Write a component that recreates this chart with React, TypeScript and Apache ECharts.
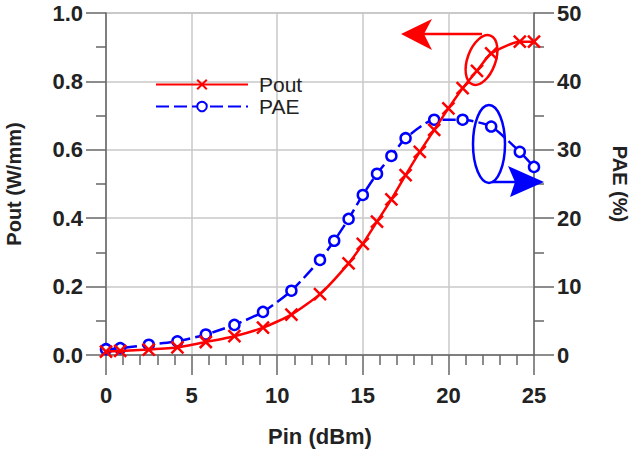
import React, { useEffect, useRef } from "react";
import * as echarts from "echarts";

const pinPout = [0, 0.83, 2.5, 4.17, 5.83, 7.5, 9.17, 10.83, 12.5, 14.17, 15, 15.83, 16.67, 17.5, 18.33, 19.17, 20, 20.83, 21.67, 22.5, 24.17, 25];
const poutValues = [0.01, 0.012, 0.016, 0.022, 0.038, 0.055, 0.08, 0.118, 0.178, 0.268, 0.325, 0.39, 0.455, 0.526, 0.594, 0.658, 0.721, 0.78, 0.831, 0.882, 0.916, 0.916];
const pinPae = [0, 0.83, 2.5, 4.17, 5.83, 7.5, 9.17, 10.83, 12.5, 13.33, 14.17, 15, 15.83, 16.67, 17.5, 19.17, 20.83, 22.5, 24.17, 25];
const paeValues = [0.85, 1.0, 1.5, 2.0, 3.0, 4.4, 6.3, 9.4, 13.9, 16.7, 19.9, 23.4, 26.5, 29.1, 31.7, 34.4, 34.4, 33.4, 29.7, 27.5];
const xTicks = [0, 5, 10, 15, 20, 25];
const leftTicks = ["0.0", "0.2", "0.4", "0.6", "0.8", "1.0"];
const rightTicks = [0, 10, 20, 30, 40, 50];

const FONT = "'Liberation Sans', Arial, sans-serif";
const RED = "#ff0000";
const BLUE = "#0000ff";
const AX = "#666666";

export default function App() {
  const ref = useRef<HTMLDivElement>(null);
  useEffect(() => {
    if (!ref.current) return;
    const chart = echarts.init(ref.current, null, { renderer: "svg" });
    const tickLabel = { fontFamily: FONT, fontSize: 22, fontWeight: "bold", color: "#222" };
    chart.setOption({
      animation: false,
      backgroundColor: "#ffffff",
      grid: {
        left: 106, right: 101, top: 13, bottom: 95,
        show: true, borderColor: "#999", borderWidth: 1,
        containLabel: false, outerBoundsMode: "none",
      },
      legend: {
        orient: "vertical",
        left: 155,
        top: 74,
        padding: 0,
        itemWidth: 92,
        itemHeight: 12,
        itemGap: 1,
        textStyle: { fontFamily: FONT, fontSize: 21, lineHeight: 21, color: "#222", padding: [0, 0, 0, 6] },
        data: ["Pout", "PAE"],
      },
      xAxis: {
        type: "value",
        min: xTicks[0],
        max: xTicks[xTicks.length - 1],
        interval: 5,
        name: "Pin (dBm)",
        nameLocation: "middle",
        nameGap: 70,
        nameTextStyle: { fontFamily: FONT, fontSize: 22, fontWeight: "bold", color: "#222" },
        axisLine: { show: true, lineStyle: { color: AX, width: 1.5 } },
        axisTick: { show: true, length: 20, lineStyle: { color: AX, width: 1.5 } },
        minorTick: { show: true, splitNumber: 5, length: 10, lineStyle: { color: AX, width: 1.5 } },
        splitLine: { show: true, lineStyle: { color: "#c8c8c8", width: 1.5 } },
        axisLabel: { ...tickLabel, margin: 29 },
      },
      yAxis: [
        {
          type: "value",
          min: 0,
          max: 1,
          interval: 0.2,
          name: "Pout (W/mm)",
          nameLocation: "middle",
          nameRotate: 90,
          nameGap: 82,
          nameTextStyle: { fontFamily: FONT, fontSize: 20, fontWeight: "bold", color: "#222" },
          axisLine: { show: true, lineStyle: { color: AX, width: 1.5 } },
          axisTick: { show: true, length: 20, lineStyle: { color: AX, width: 1.5 } },
          minorTick: { show: true, splitNumber: 2, length: 10, lineStyle: { color: AX, width: 1.5 } },
          splitLine: { show: true, lineStyle: { color: "#c8c8c8", width: 1.5 } },
          axisLabel: { ...tickLabel, margin: 23, formatter: (v: number) => leftTicks[Math.round(v * 5)] ?? v.toFixed(1) },
        },
        {
          type: "value",
          min: rightTicks[0],
          max: rightTicks[rightTicks.length - 1],
          interval: 10,
          name: "PAE (%)",
          nameLocation: "middle",
          nameRotate: -90,
          nameGap: 76,
          nameTextStyle: { fontFamily: FONT, fontSize: 20, fontWeight: "bold", color: "#222" },
          axisLine: { show: true, lineStyle: { color: AX, width: 1.5 } },
          axisTick: { show: true, length: 20, lineStyle: { color: AX, width: 1.5 } },
          minorTick: { show: true, splitNumber: 2, length: 10, lineStyle: { color: AX, width: 1.5 } },
          splitLine: { show: false },
          axisLabel: { ...tickLabel, margin: 23 },
        },
      ],
      series: [
        {
          name: "Pout",
          type: "line",
          yAxisIndex: 0,
          data: pinPout.map((x, i) => [x, poutValues[i]]),
          smooth: 0.2,
          symbol: "path://M0,0L10,10M0,10L10,0",
          symbolSize: 12,
          showAllSymbol: true,
          lineStyle: { color: RED, width: 2.5 },
          itemStyle: { color: RED, borderColor: RED, borderWidth: 2.5 },
          z: 3,
        },
        {
          name: "PAE",
          type: "line",
          yAxisIndex: 1,
          data: pinPae.map((x, i) => [x, paeValues[i]]),
          smooth: 0.2,
          symbol: "circle",
          symbolSize: 10,
          showAllSymbol: true,
          lineStyle: { color: BLUE, width: 2.5, type: [13, 5] },
          itemStyle: { color: "#ffffff", borderColor: BLUE, borderWidth: 2.5 },
          z: 2,
        },
      ],
      graphic: [
        {
          type: "ellipse",
          x: 481.5,
          y: 60,
          rotation: -0.35,
          shape: { cx: 0, cy: 0, rx: 14, ry: 26 },
          style: { fill: "none", stroke: RED, lineWidth: 2.5 },
          z: 10,
        },
        {
          type: "line",
          shape: { x1: 424, y1: 34, x2: 482, y2: 34 },
          style: { stroke: RED, lineWidth: 2.5 },
          z: 10,
        },
        {
          type: "polygon",
          shape: { points: [[401, 34], [432, 19], [424, 34], [432, 50]] },
          style: { fill: RED },
          z: 10,
        },
        {
          type: "ellipse",
          shape: { cx: 489, cy: 144, rx: 16, ry: 39 },
          style: { fill: "none", stroke: BLUE, lineWidth: 2.5 },
          z: 10,
        },
        {
          type: "line",
          shape: { x1: 492, y1: 182, x2: 516, y2: 182 },
          style: { stroke: BLUE, lineWidth: 2.5 },
          z: 10,
        },
        {
          type: "polygon",
          shape: { points: [[544, 182], [508, 166], [515, 182], [510, 197]] },
          style: { fill: BLUE },
          z: 10,
        },
      ],
    });
    return () => chart.dispose();
  }, []);
  return <div ref={ref} style={{ width: 635, height: 450, position: "absolute", left: 0, top: 0 }} />;
}
